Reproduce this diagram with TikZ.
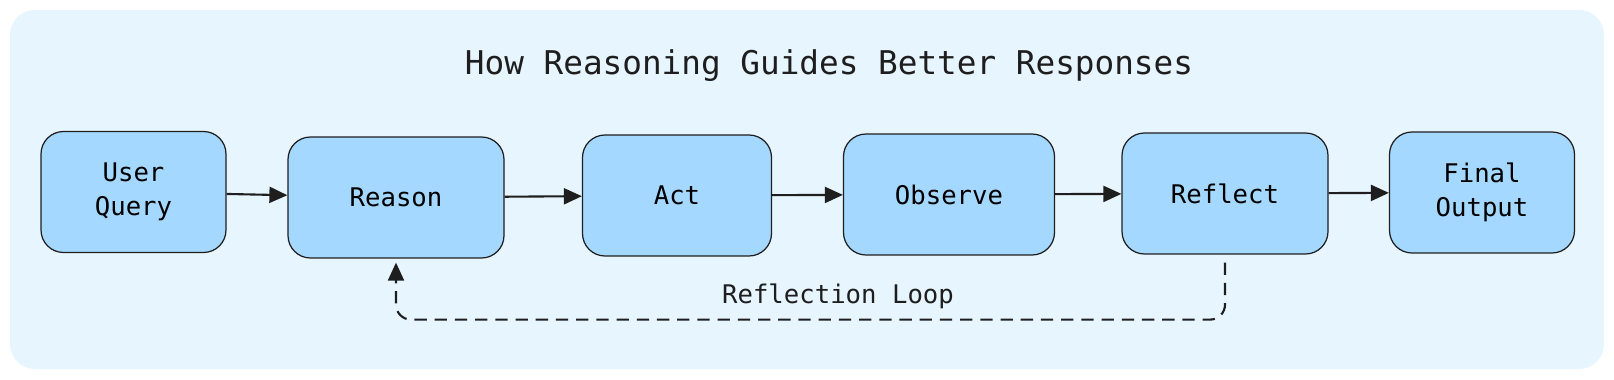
\documentclass[tikz,border=0pt]{standalone}
\usepackage{fontspec}
\setmonofont{DejaVu Sans Mono}
\usepackage{xcolor}
\usetikzlibrary{arrows.meta, positioning, calc, backgrounds}

\definecolor{panelblue}{HTML}{E7F5FF}
\definecolor{stepblue}{HTML}{A5D8FF}
\definecolor{inkdark}{HTML}{1E1E1E}

\tikzset{
  stepbox/.style={
    draw=inkdark, rounded corners=0.45cm, line width=0.7pt, align=center,
    font=\ttfamily\fontsize{14.6}{19.3}\selectfont, fill=stepblue,
    minimum height=2.42cm, inner sep=0pt
  },
  flowarrow/.style={
    -{Triangle[length=3.6mm, width=3.2mm]}, line width=1.2pt, color=inkdark
  },
  looparrow/.style={
    -{Triangle[length=3.6mm, width=3.2mm]}, line width=1.2pt, color=inkdark,
    dash pattern=on 7pt off 4.5pt, rounded corners=0.3cm
  },
  looplabel/.style={
    font=\ttfamily\fontsize{14.6}{17}\selectfont, text=inkdark
  },
}

\begin{document}
\begin{tikzpicture}
  % ── Panel ──────────────────────────────────────────────────────
  \useasboundingbox (0,0) rectangle (32.28,-7.6);
  \fill[panelblue, rounded corners=0.5cm] (0.2,-0.2) rectangle (32.08,-7.38);

  \node[font=\ttfamily\fontsize{18.6}{22}\selectfont, text=inkdark]
    (title) at (16.58,-1.31) {How Reasoning Guides Better Responses};

  % ── Steps ──────────────────────────────────────────────────────
  \node[stepbox, minimum width=3.7cm]  (query)   at (2.67,-3.84)  {User\\Query};
  \node[stepbox, minimum width=4.32cm] (reason)  at (7.92,-3.95)  {Reason};
  \node[stepbox, minimum width=3.78cm] (act)     at (13.54,-3.91) {Act};
  \node[stepbox, minimum width=4.22cm] (observe) at (18.98,-3.89) {Observe};
  \node[stepbox, minimum width=4.12cm] (reflect) at (24.5,-3.87)  {Reflect};
  \node[stepbox, minimum width=3.7cm]  (final)   at (29.64,-3.85) {Final\\Output};

  \draw[flowarrow] (query) -- (reason);
  \draw[flowarrow] (reason) -- (act);
  \draw[flowarrow] (act) -- (observe);
  \draw[flowarrow] (observe) -- (reflect);
  \draw[flowarrow] (reflect) -- (final);

  % ── Reflection loop ────────────────────────────────────────────
  \coordinate (loopright) at ($(reflect.south)+(0,-1.3)$);
  \coordinate (loopleft) at (reason.south |- loopright);
  \draw[looparrow, shorten <=0.16cm, shorten >=0.08cm]
    (reflect.south) -- (loopright) -- (loopleft) -- (reason.south);

  \node[looplabel] (looptext) at (16.76,-5.92) {Reflection Loop};
\end{tikzpicture}
\end{document}
